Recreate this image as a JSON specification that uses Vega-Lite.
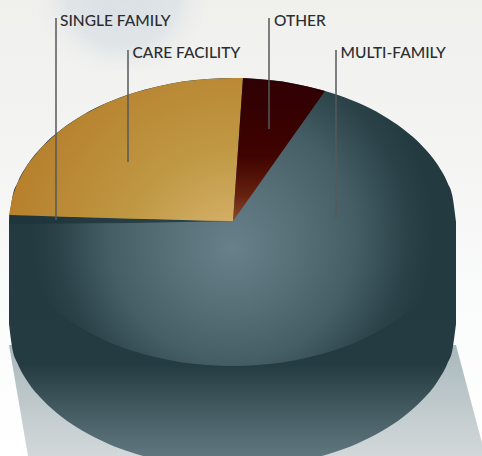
{"$schema":"https://vega.github.io/schema/vega-lite/v6.json","width":482,"height":456,"padding":0,"autosize":{"type":"fit","contains":"padding"},"background":"#f6f6f5","view":{"stroke":null},"config":{"axis":{"disable":true}},
"encoding":{"x":{"field":"x","type":"quantitative","scale":{"domain":[0,482],"nice":false,"zero":false},"axis":null},"y":{"field":"y","type":"quantitative","scale":{"domain":[456,0],"nice":false,"zero":false},"axis":null}},
"layer":[
{"data":{"values":[{"x":0,"y":0,"y2":456},{"x":482,"y":0,"y2":456}]},"mark":{"type":"area","clip":true,"color":{"gradient":"linear","x1":0,"y1":0,"x2":0,"y2":1,"stops":[{"offset":0,"color":"#f0f0ed"},{"offset":0.35,"color":"#f4f4f3"},{"offset":0.65,"color":"#fafbfb"},{"offset":1,"color":"#ffffff"}]}},"encoding":{"y2":{"field":"y2"}}},
{"data":{"values":[{"x":30,"y":-90,"y2":70},{"x":215,"y":-90,"y2":70}]},"mark":{"type":"area","clip":true,"color":{"gradient":"radial","x1":0.5,"y1":0.5,"r1":0,"x2":0.5,"y2":0.5,"r2":0.5,"stops":[{"offset":0,"color":"rgba(218,224,229,1)"},{"offset":0.6,"color":"rgba(222,227,231,0.9)"},{"offset":1,"color":"rgba(240,240,238,0)"}]}},"encoding":{"y2":{"field":"y2"}}},
{"data":{"values":[{"x":9,"y":345,"y2":345},{"x":28,"y":345,"y2":456},{"x":456,"y":345,"y2":456},{"x":482,"y":443,"y2":456}]},"mark":{"type":"area","clip":true,"color":{"gradient":"linear","x1":0,"y1":0,"x2":0,"y2":1,"stops":[{"offset":0,"color":"#a9b8bc"},{"offset":1,"color":"#d2d8da"}]}},"encoding":{"y2":{"field":"y2"}}},
{"data":{"values":[{"x":9,"y":222,"y2":324},{"x":12.5,"y":222,"y2":349.4},{"x":17.5,"y":222,"y2":363.3},{"x":27.5,"y":222,"y2":381.4},{"x":42.5,"y":222,"y2":399.8},{"x":62.5,"y":222,"y2":417.5},{"x":82.5,"y":222,"y2":430.8},{"x":107.5,"y":222,"y2":443.4},{"x":132.5,"y":222,"y2":452.8},{"x":157.5,"y":222,"y2":459.6},{"x":182.5,"y":222,"y2":464.4},{"x":207.5,"y":222,"y2":467.1},{"x":232.5,"y":222,"y2":468},{"x":257.5,"y":222,"y2":467.1},{"x":282.5,"y":222,"y2":464.4},{"x":307.5,"y":222,"y2":459.6},{"x":332.5,"y":222,"y2":452.8},{"x":357.5,"y":222,"y2":443.4},{"x":382.5,"y":222,"y2":430.8},{"x":402.5,"y":222,"y2":417.5},{"x":422.5,"y":222,"y2":399.8},{"x":437.5,"y":222,"y2":381.4},{"x":447.5,"y":222,"y2":363.3},{"x":452.5,"y":222,"y2":349.4},{"x":456,"y":222,"y2":324}]},"mark":{"type":"area","clip":true,"interpolate":"monotone","color":{"gradient":"linear","x1":0,"y1":0,"x2":0,"y2":1,"stops":[{"offset":0,"color":"#233a40"},{"offset":0.58,"color":"#243b41"},{"offset":0.75,"color":"#41585f"},{"offset":1,"color":"#677e86"}]}},"encoding":{"y2":{"field":"y2"}}},
{"data":{"values":[{"x":9,"y":222,"y2":222},{"x":12.5,"y":196.6,"y2":247.4},{"x":17.5,"y":182.7,"y2":261.3},{"x":27.5,"y":164.6,"y2":279.4},{"x":42.5,"y":146.2,"y2":297.8},{"x":62.5,"y":128.5,"y2":315.5},{"x":82.5,"y":115.2,"y2":328.8},{"x":107.5,"y":102.6,"y2":341.4},{"x":132.5,"y":93.2,"y2":350.8},{"x":157.5,"y":86.4,"y2":357.6},{"x":182.5,"y":81.6,"y2":362.4},{"x":207.5,"y":78.9,"y2":365.1},{"x":232.5,"y":78,"y2":366},{"x":257.5,"y":78.9,"y2":365.1},{"x":282.5,"y":81.6,"y2":362.4},{"x":307.5,"y":86.4,"y2":357.6},{"x":332.5,"y":93.2,"y2":350.8},{"x":357.5,"y":102.6,"y2":341.4},{"x":382.5,"y":115.2,"y2":328.8},{"x":402.5,"y":128.5,"y2":315.5},{"x":422.5,"y":146.2,"y2":297.8},{"x":437.5,"y":164.6,"y2":279.4},{"x":447.5,"y":182.7,"y2":261.3},{"x":452.5,"y":196.6,"y2":247.4},{"x":456,"y":222,"y2":222}]},"mark":{"type":"area","clip":true,"interpolate":"monotone","color":{"gradient":"radial","x1":0.5,"y1":0.56,"r1":0,"x2":0.5,"y2":0.52,"r2":0.5,"stops":[{"offset":0,"color":"#68808a"},{"offset":0.3,"color":"#566e76"},{"offset":0.55,"color":"#455d64"},{"offset":0.78,"color":"#2a4248"},{"offset":0.9,"color":"#233a40"},{"offset":1,"color":"#233a40"}]}},"encoding":{"y2":{"field":"y2"}}},
{"data":{"values":[{"x":9,"y":215,"y2":224},{"x":60,"y":216.5,"y2":223.5},{"x":130,"y":218.6,"y2":223},{"x":233,"y":221,"y2":221}]},"mark":{"type":"area","clip":true,"color":"#1e353b","opacity":0.8},"encoding":{"y2":{"field":"y2"}}},
{"data":{"values":[{"x":9,"y":215,"y2":215},{"x":12.5,"y":196.6,"y2":215.1},{"x":17.5,"y":182.7,"y2":215.3},{"x":27.5,"y":164.6,"y2":215.6},{"x":42.5,"y":146.2,"y2":216.1},{"x":62.5,"y":128.5,"y2":216.7},{"x":82.5,"y":115.2,"y2":217.2},{"x":107.5,"y":102.6,"y2":218},{"x":132.5,"y":93.2,"y2":218.7},{"x":157.5,"y":86.4,"y2":219.3},{"x":182.5,"y":81.6,"y2":220},{"x":207.5,"y":78.9,"y2":220.7},{"x":233,"y":78,"y2":221},{"x":243,"y":78,"y2":78}]},"mark":{"type":"area","clip":true,"color":{"gradient":"radial","x1":0.98,"y1":1,"r1":0,"x2":0.98,"y2":1,"r2":1.05,"stops":[{"offset":0,"color":"#e3c487"},{"offset":0.22,"color":"#d0ab60"},{"offset":0.5,"color":"#bf9742"},{"offset":1,"color":"#b67e2b"}]}},"encoding":{"y2":{"field":"y2"}}},
{"data":{"values":[{"x":233,"y":221,"y2":221},{"x":243,"y":78,"y2":207},{"x":257.5,"y":78.9,"y2":186.4},{"x":282.5,"y":81.6,"y2":151},{"x":307.5,"y":86.4,"y2":115.7},{"x":325,"y":91,"y2":91}]},"mark":{"type":"area","clip":true,"color":{"gradient":"linear","x1":0,"y1":0,"x2":0,"y2":1,"stops":[{"offset":0,"color":"#2e0004"},{"offset":0.55,"color":"#400300"},{"offset":0.82,"color":"#66210f"},{"offset":1,"color":"#8a4a2e"}]}},"encoding":{"y2":{"field":"y2"}}},
{"data":{"values":[{"x":56,"y":18,"y2":220},{"x":128,"y":50,"y2":162},{"x":269,"y":18,"y2":129},{"x":336,"y":50,"y2":218}]},"mark":{"type":"rule","color":"#55585a","strokeWidth":1.5},"encoding":{"y2":{"field":"y2"}}},
{"data":{"values":[{"x":60,"y":26,"label":"SINGLE FAMILY"},{"x":132.5,"y":58,"label":"CARE FACILITY"},{"x":274,"y":26,"label":"OTHER"},{"x":340.5,"y":58,"label":"MULTI-FAMILY"}]},"mark":{"type":"text","align":"left","baseline":"alphabetic","font":"Lato","fontSize":15.5,"fontWeight":500,"color":"#2b2d2f"},"encoding":{"text":{"field":"label"}}}
]}
